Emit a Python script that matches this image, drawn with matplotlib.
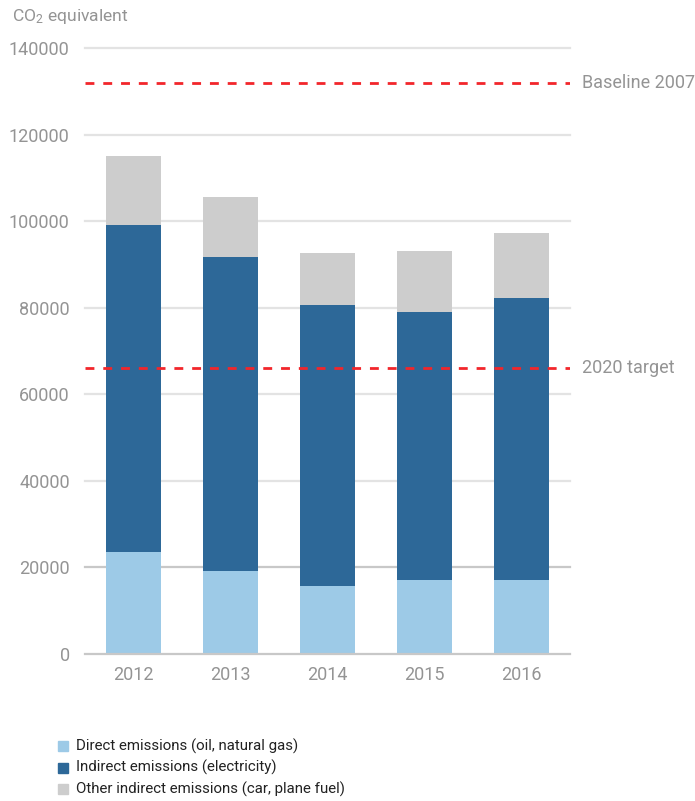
import matplotlib.pyplot as plt
from matplotlib.patches import Rectangle

# data (tonnes CO2 equivalent)
years = ['2012', '2013', '2014', '2015', '2016']
direct = [23600, 19200, 15800, 17100, 17100]
indirect = [75500, 72500, 64800, 61900, 65100]
other = [15900, 13900, 12000, 14100, 15000]
yticks = [0, 20000, 40000, 60000, 80000, 100000, 120000, 140000]
baseline_2007 = 132000
target_2020 = 66000

legend_labels = ['Direct emissions (oil, natural gas)',
                 'Indirect emissions (electricity)',
                 'Other indirect emissions (car, plane fuel)']

C_DIRECT = '#9dcae7'
C_INDIRECT = '#2d6898'
C_OTHER = '#cdcdcd'
C_TEXT = '#949494'
C_RED = '#f2262b'

plt.rcParams['font.family'] = ['Roboto', 'DejaVu Sans']

fig = plt.figure(figsize=(6.95, 8.01), dpi=100)
W, H = 695, 801
ax = fig.add_axes([85 / W, 1 - 654 / H, 485 / W, 606 / H])

x = range(len(years))
bottom2 = [d + i for d, i in zip(direct, indirect)]
ax.bar(x, direct, width=0.56, color=C_DIRECT, zorder=2)
ax.bar(x, indirect, width=0.56, bottom=direct, color=C_INDIRECT, zorder=2)
ax.bar(x, other, width=0.56, bottom=bottom2, color=C_OTHER, zorder=2)

ax.set_xlim(-0.5, 4.5)
ax.set_ylim(0, 140000)
ax.set_yticks(yticks)
ax.set_yticklabels([str(v) for v in yticks])
ax.set_xticks(list(x))
ax.set_xticklabels(years)
ax.tick_params(length=0, labelsize=13, labelcolor=C_TEXT, pad=9)
ax.tick_params(axis='y', pad=11)

for s in ax.spines.values():
    s.set_visible(False)
for v in yticks:
    ax.axhline(v, color='#c8c8c8' if v in (0, 20000) else '#e3e3e3',
               lw=1.6, zorder=1 if v else 3, clip_on=False)

for val, txt in [(baseline_2007, 'Baseline 2007'), (target_2020, '2020 target')]:
    ax.axhline(val, color=C_RED, lw=2, ls=(0, (3.2, 3.2)), zorder=4)
    ax.text(1.025, val, txt, transform=ax.get_yaxis_transform(), va='center',
            ha='left', fontsize=13, color=C_TEXT)

fig.text(12 / W, 1 - 17 / H, '$\\mathregular{CO_2}$ equivalent', fontsize=12.6,
         color=C_TEXT, va='center', ha='left')

# legend drawn by hand to mimic the square markers
for k, (lab, col) in enumerate(zip(legend_labels, [C_DIRECT, C_INDIRECT, C_OTHER])):
    yc = 746 + k * 21.5
    fig.patches.append(Rectangle((58 / W, 1 - (yc + 5) / H), 10 / W, 10 / H,
                                 transform=fig.transFigure, color=col))
    fig.text(76 / W, 1 - yc / H, lab, fontsize=10.8, color='#222222',
             va='center', ha='left')

fig.savefig('out.png', dpi=100)
